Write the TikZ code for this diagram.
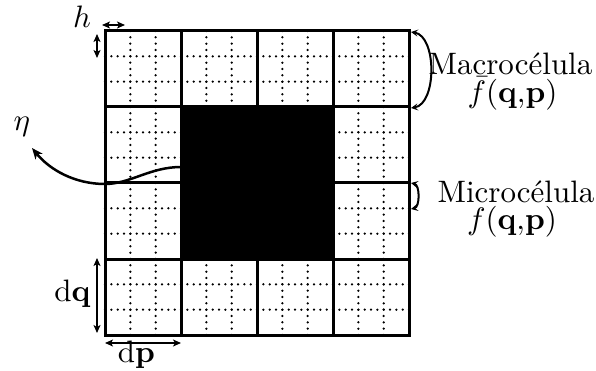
\documentclass[tikz,border=0pt]{standalone}
\usetikzlibrary{arrows.meta}
\begin{document}
\begin{tikzpicture}[x=1pt,y=-1pt,
  gridline/.style={line width=3pt},
  dotgrid/.style={line width=2.5pt, line cap=round, dash pattern=on 0pt off 6.3333pt},
  tipA/.style={line width=2pt,{Stealth[length=8pt,width=7pt,inset=2pt]}-{Stealth[length=8pt,width=7pt,inset=2pt]}},
  brace/.style={line width=2pt,{Stealth[length=7pt,width=7pt,inset=3pt]}-{Stealth[length=7pt,width=7pt,inset=3pt]}},
  curvearrow/.style={line width=2.5pt,-{Stealth[length=11pt,width=9pt,inset=3pt]}},
  lbl/.style={inner sep=0pt, scale=3.1, transform shape, font=\fontsize{10}{12}\selectfont}]
\useasboundingbox (0,0) rectangle (596,371);
\def\xa{105}\def\ya{31}\def\M{76}\def\m{25.3333}
% micro grid
\foreach \i in {1,2,4,5,7,8,10,11} {
  \draw[dotgrid] ({\xa+\i*\m},31) -- ({\xa+\i*\m},335);
  \draw[dotgrid] (105,{\ya+\i*\m}) -- (409,{\ya+\i*\m});
}
% macro grid
\foreach \i in {1,2,3} {
  \draw[gridline] ({\xa+\i*\M},31) -- ({\xa+\i*\M},335);
  \draw[gridline] (105,{\ya+\i*\M}) -- (409,{\ya+\i*\M});
}
\draw[gridline] (105,31) rectangle (409,335);
% black block
\fill (181,107) rectangle (333,259);
% coordinates
\coordinate (hL) at (102,25); \coordinate (hR) at (125,25);
\coordinate (hT) at (97,34); \coordinate (hB) at (97,58);
\coordinate (dqT) at (97,258); \coordinate (dqB) at (97,333);
\coordinate (dpL) at (105,343); \coordinate (dpR) at (181,343);
\coordinate (macT) at (411,32); \coordinate (macB) at (411,108);
\coordinate (micT) at (411,183); \coordinate (micB) at (411,209);
\coordinate (etaS) at (181,167); \coordinate (etaM) at (105,184); \coordinate (etaE) at (32,148);
% dimension arrows
\draw[tipA] (hL) -- (hR);
\draw[tipA] (hT) -- (hB);
\draw[tipA] (dqT) -- (dqB);
\draw[tipA] (dpL) -- (dpR);
% braces
\draw[brace] (macT) .. controls (437,36) and (437,104) .. (macB);
\draw[brace] (micT) .. controls (420,185) and (420,207) .. (micB);
% eta curve
\draw[curvearrow] (etaS) .. controls (150,167) and (130,184) .. (etaM) .. controls (75,184) and (50,170) .. (etaE);
% labels
\node[lbl, anchor=base] (h) at (82,28) {$h$};
\node[lbl, anchor=base] (eta) at (22,131) {$\eta$};
\node[lbl, anchor=base] (dq) at (72.5,301) {$\mathrm{d}\mathbf{q}$};
\node[lbl, anchor=base] (dp) at (136.5,362) {$\mathrm{d}\mathbf{p}$};
\node[lbl, anchor=base] (mac1) at (510.5,75) {Macrocélula};
\node[lbl, anchor=base] (mac2) at (512.5,103) {$\smash{\bar f}(\mathbf{q}{,}\mathbf{p})$};
\node[lbl, anchor=base] (mic1) at (516,203) {Microcélula};
\node[lbl, anchor=base] (mic2) at (512,229.5) {$f(\mathbf{q}{,}\mathbf{p})$};
\end{tikzpicture}
\end{document}
